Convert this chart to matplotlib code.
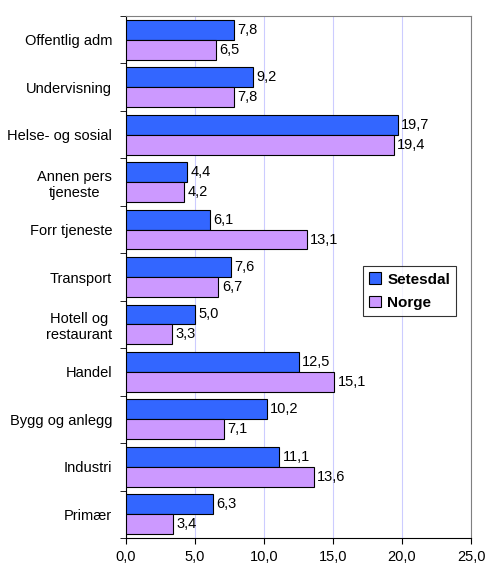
import numpy as np
import matplotlib
matplotlib.use("Agg")
from matplotlib import pyplot as plt

# Data, top to bottom as in the chart
categories = ["Offentlig adm", "Undervisning", "Helse- og sosial", "Annen pers\ntjeneste",
              "Forr tjeneste", "Transport", "Hotell og\nrestaurant", "Handel",
              "Bygg og anlegg", "Industri", "Primær"]
setesdal = [7.8, 9.2, 19.7, 4.4, 6.1, 7.6, 5.0, 12.5, 10.2, 11.1, 6.3]
norge = [6.5, 7.8, 19.4, 4.2, 13.1, 6.7, 3.3, 15.1, 7.1, 13.6, 3.4]

plt.rcParams['font.family'] = ['Liberation Sans', 'DejaVu Sans']

fig = plt.figure(figsize=(4.87, 5.66), dpi=100)
ax = fig.add_axes([0.2587, 0.0495, 0.7085, 0.9222])

n = len(categories)
y = np.arange(n)[::-1].astype(float)
h = 0.42
b1 = ax.barh(y + h / 2, setesdal, height=h, color="#3366FF", edgecolor="black", linewidth=0.8,
             label="Setesdal", zorder=3)
b2 = ax.barh(y - h / 2, norge, height=h, color="#CC99FF", edgecolor="black", linewidth=0.8,
             label="Norge", zorder=3)

for bars, vals in ((b1, setesdal), (b2, norge)):
    for bar, v in zip(bars, vals):
        ax.text(v + 0.25, bar.get_y() + bar.get_height() / 2, f"{v:.1f}".replace(".", ","),
                va="center", ha="left", fontsize=10.5)

ax.set_xlim(0, 25)
ax.set_ylim(-0.5, n - 0.5)
ax.set_xticks(np.arange(0, 26, 5))
ax.set_xticklabels([f"{t:.1f}".replace(".", ",") for t in np.arange(0, 26, 5)], fontsize=10.5)
ax.set_yticks(y)
ax.set_yticklabels(categories, fontsize=10.5, multialignment="center")
ax.tick_params(axis="y", length=0, pad=10)
ax.set_yticks(np.arange(-0.5, n, 1.0), minor=True)
ax.tick_params(axis="y", which="minor", length=4, direction="out")
ax.tick_params(axis="x", length=4, direction="out", pad=5)
ax.xaxis.grid(True, color="#CCCCFF", linewidth=0.8, zorder=0)

ax.spines["top"].set_color("#808080")
ax.spines["right"].set_color("#808080")
ax.spines["left"].set_color("black")
ax.spines["bottom"].set_color("black")

leg = ax.legend(loc="center left", bbox_to_anchor=(0.664, 0.473), prop={"weight": "bold", "size": 11},
                frameon=True, fancybox=False, edgecolor="black", handlelength=0.8, handleheight=0.8,
                borderpad=0.4, labelspacing=0.6, handletextpad=0.4)
leg.get_frame().set_linewidth(0.8)

fig.savefig("out.png", dpi=100)
